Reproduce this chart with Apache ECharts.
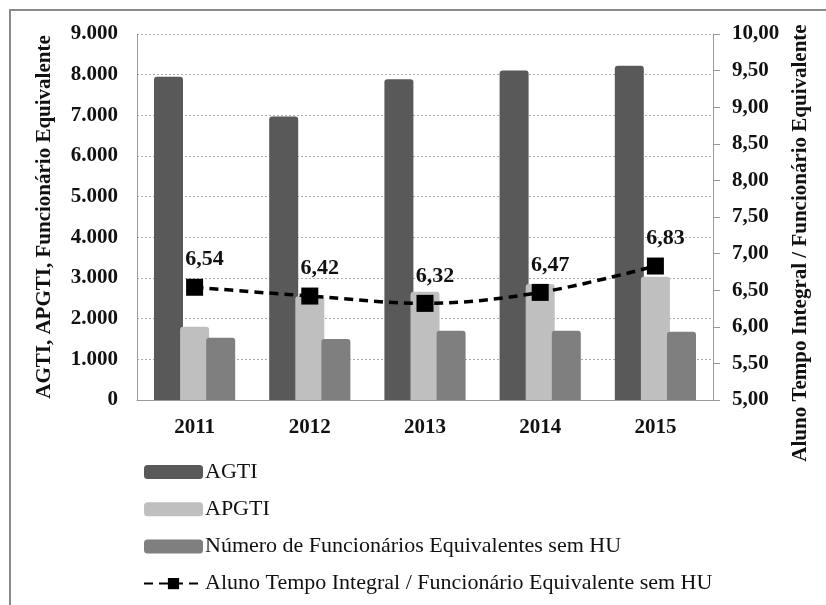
<!DOCTYPE html>
<html>
<head>
<meta charset="utf-8">
<script src="https://cdn.jsdelivr.net/npm/echarts@6/dist/echarts.min.js"></script>
<style>
  html, body { margin: 0; padding: 0; background: #fff; }
  #chart { width: 826px; height: 605px; }
</style>
</head>
<body>
<div id="chart"></div>
<script>
const years = ['2011', '2012', '2013', '2014', '2015']
const agti = [7950, 6970, 7890, 8100, 8220]
const apgti = [1800, 2550, 2660, 2850, 3030]
const funcionarios = [1530, 1500, 1700, 1700, 1680]
const razao = [6.54, 6.42, 6.32, 6.47, 6.83]

const serif = 'Liberation Serif'
const chart = echarts.init(document.getElementById('chart'))

// barras com cantos levemente arredondados, pequena sobreposição
const barBase = {
  type: 'bar',
  barWidth: 29,
  barGap: '-10%',
  yAxisIndex: 0,
}

chart.setOption({
  animation: false,
  textStyle: { fontFamily: serif },
  graphic: [
    {
      type: 'rect',
      shape: { x: 10, y: 10, width: 830, height: 600 },
      style: { fill: 'none', stroke: '#8a8a8a', lineWidth: 2 },
      silent: true,
    },
  ],
  grid: { left: 137, right: 113, top: 34, bottom: 205 },
  legend: {
    orient: 'vertical',
    left: 138,
    top: 456,
    itemWidth: 59,
    itemHeight: 14,
    itemGap: 15.2,
    textStyle: { fontFamily: serif, fontSize: 22, color: '#111', padding: [0, 0, 0, -3] },
    data: [
      { name: 'AGTI', icon: 'roundRect' },
      { name: 'APGTI', icon: 'roundRect' },
      { name: 'Número de Funcionários Equivalentes sem HU', icon: 'roundRect' },
      { name: 'Aluno Tempo Integral / Funcionário Equivalente sem HU' },
    ],
  },
  xAxis: {
    type: 'category',
    data: years,
    axisLine: { lineStyle: { color: '#999' } },
    axisTick: { show: false },
    axisLabel: { fontFamily: serif, fontSize: 21, fontWeight: 'bold', color: '#111', margin: 17 },
  },
  yAxis: [
    {
      type: 'value',
      min: 0,
      max: 9000,
      interval: 1000,
      name: 'AGTI, APGTI, Funcionário Equivalente',
      nameLocation: 'middle',
      nameGap: 82,
      nameRotate: 90,
      nameTextStyle: { fontFamily: serif, fontSize: 21, fontWeight: 'bold', color: '#111' },
      axisLine: { show: true, lineStyle: { color: '#999' } },
      axisTick: { show: false },
      axisLabel: {
        fontFamily: serif, fontSize: 21, fontWeight: 'bold', color: '#111', margin: 19,
        formatter: v => v === 0 ? '0' : (v / 1000).toFixed(0) + '.000',
      },
      splitLine: { lineStyle: { color: '#aaa', type: [2, 2] } },
    },
    {
      type: 'value',
      min: 5,
      max: 10,
      interval: 0.5,
      position: 'right',
      name: 'Aluno Tempo Integral / Funcionário Equivalente',
      nameLocation: 'middle',
      nameGap: 77,
      nameRotate: 90,
      nameTextStyle: {
        fontFamily: serif, fontSize: 21, fontWeight: 'bold', color: '#111',
        padding: [0, 52, 0, 0],
      },
      axisLine: { show: true, lineStyle: { color: '#999' } },
      axisTick: { show: true, length: 7, lineStyle: { color: '#999' } },
      axisLabel: {
        fontFamily: serif, fontSize: 21, fontWeight: 'bold', color: '#111', margin: 19,
        formatter: v => v.toFixed(2).replace('.', ','),
      },
      splitLine: { show: false },
    },
  ],
  series: [
    {
      ...barBase,
      name: 'AGTI',
      data: agti,
      itemStyle: { color: '#595959', borderRadius: [3, 3, 0, 0] },
    },
    {
      ...barBase,
      name: 'APGTI',
      data: apgti,
      itemStyle: { color: '#bfbfbf', borderRadius: [3, 3, 0, 0] },
    },
    {
      ...barBase,
      name: 'Número de Funcionários Equivalentes sem HU',
      data: funcionarios,
      itemStyle: { color: '#7f7f7f', borderRadius: [3, 3, 0, 0] },
    },
    {
      type: 'line',
      name: 'Aluno Tempo Integral / Funcionário Equivalente sem HU',
      yAxisIndex: 1,
      data: razao,
      smooth: 0.35,
      symbol: 'rect',
      symbolSize: 17,
      itemStyle: { color: '#000' },
      lineStyle: { color: '#000', width: 3.5, type: [9, 6] },
      label: {
        show: true,
        position: 'top',
        distance: 8,
        offset: [10, 0],
        fontFamily: serif,
        fontSize: 22,
        fontWeight: 'bold',
        color: '#111',
        formatter: p => p.value.toFixed(2).replace('.', ','),
      },
      z: 5,
    },
  ],
})
</script>
</body>
</html>
